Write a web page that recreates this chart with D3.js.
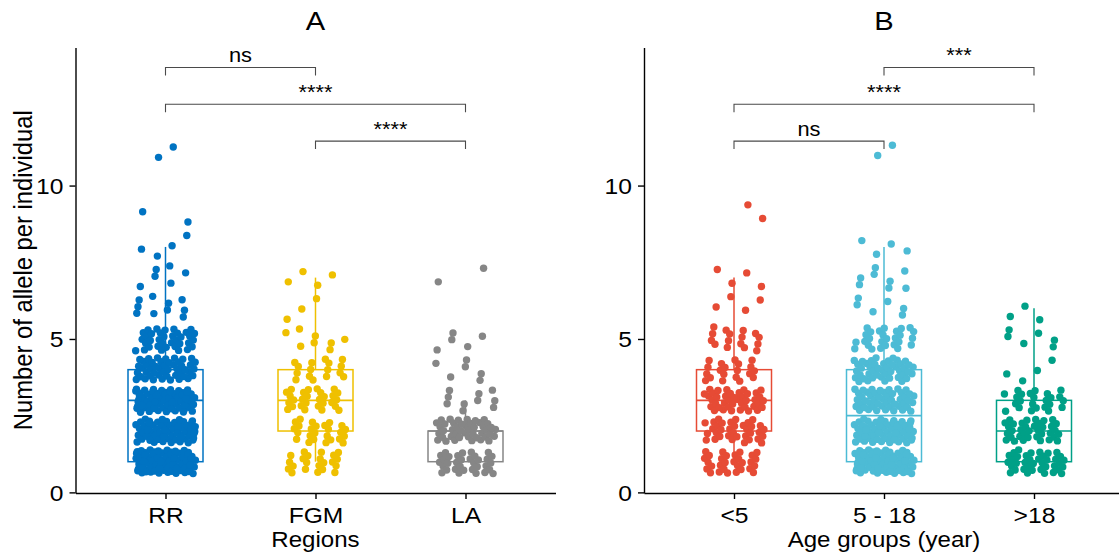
<!DOCTYPE html>
<html>
<head>
<meta charset="utf-8">
<script src="https://cdn.jsdelivr.net/npm/d3@7"></script>
<style>
  html, body { margin: 0; padding: 0; background: #ffffff; }
  svg { display: block; }
  text { font-family: "Liberation Sans", Arial, Helvetica, sans-serif; fill: #000; }
</style>
</head>
<body>
<script>
// ---- data: number of individuals carrying each allele count ----
const alleleValues = [1, 2, 3, 4, 5, 6, 7, 8, 9, 10, 11];
const yTicks = [0, 5, 10];

// Panel A: by region
const regions = ["RR", "FGM", "LA"];
const countsRR  = [90, 65, 74, 47, 36, 10, 6, 4, 2, 0, 2];
const countsFGM = [22, 25, 28, 16,  8,  3, 4, 0, 0, 0, 0];
const countsLA  = [33, 44, 10,  6,  5,  0, 2, 0, 0, 0, 0];
const regionColors = ["#0073C2", "#EFC000", "#868686"];
const regionTests = [
  { from: "RR",  to: "FGM", label: "ns" },
  { from: "RR",  to: "LA",  label: "****" },
  { from: "FGM", to: "LA",  label: "****" }
];

// Panel B: by age group
const ageGroups = ["<5", "5 - 18", ">18"];
const countsUnder5 = [30, 35, 40, 20, 16, 4, 4, 0, 2, 0, 0];
const counts5to18  = [77, 63, 48, 45, 27, 6, 8, 4, 0, 0, 2];
const countsOver18 = [38, 36, 24,  4,  6, 3, 0, 0, 0, 0, 0];
const ageColors = ["#E64B35", "#4DBBD5", "#00A087"];
const ageTests = [
  { from: "5 - 18", to: ">18",  label: "***" },
  { from: "<5",     to: ">18",  label: "****" },
  { from: "<5",     to: "5 - 18", label: "ns" }
];

// ---- layout ----
const W = 1119, H = 557;
const SX = 1.12;             // horizontal text stretch
const panelTop = 47.5, panelBottom = 493;
const bracketTop = 13.85, bracketGap = 1.2, bracketTip = 8;
const jitterW = 0.2, jitterH = 0.39;

const svg = d3.select("body").append("svg")
  .attr("width", W).attr("height", H);

const y = d3.scaleLinear().domain([-0.02, 14.5]).range([panelBottom, panelTop]);

function stretched(sel, x, yPos) {
  return sel.attr("transform", `translate(${x},${yPos}) scale(${SX},1)`);
}

// R2 low-discrepancy sequence for jitter offsets in [-1, 1]
function r2(n) {
  const a1 = 0.7548776662466927, a2 = 0.5698402909980532;
  return [((0.5 + a1 * n) % 1) * 2 - 1, ((0.5 + a2 * n) % 1) * 2 - 1];
}

function expand(counts) {
  const out = [];
  counts.forEach((c, k) => { for (let j = 0; j < c; j++) out.push(alleleValues[k]); });
  return out;
}

function drawPanel(cfg) {
  const g = svg.append("g");
  const x = d3.scalePoint().domain(cfg.categories)
    .range([cfg.left, cfg.left + 480]).padding(0.6);
  const step = x.step();
  const boxHalf = step * 0.25;

  cfg.counts.forEach((counts, gi) => {
    const cat = cfg.categories[gi];
    const color = cfg.colors[gi];
    const vals = expand(counts).sort(d3.ascending);
    const q1 = d3.quantile(vals, 0.25), med = d3.quantile(vals, 0.5), q3 = d3.quantile(vals, 0.75);
    const iqr = q3 - q1;
    const hiW = d3.max(vals.filter(v => v <= q3 + 1.5 * iqr));
    const loW = d3.min(vals.filter(v => v >= q1 - 1.5 * iqr));
    const cx = x(cat);
    const bg = g.append("g").attr("stroke", color).attr("stroke-width", 1.5).attr("fill", "none");
    bg.append("line").attr("x1", cx).attr("x2", cx).attr("y1", y(q3)).attr("y2", y(hiW));
    bg.append("line").attr("x1", cx).attr("x2", cx).attr("y1", y(q1)).attr("y2", y(loW));
    bg.append("rect").attr("x", cx - boxHalf).attr("width", boxHalf * 2)
      .attr("y", y(q3)).attr("height", y(q1) - y(q3)).attr("fill", "#fff");
    bg.append("line").attr("x1", cx - boxHalf).attr("x2", cx + boxHalf)
      .attr("y1", y(med)).attr("y2", y(med)).attr("stroke-width", 1.7);

    g.append("g").attr("fill", color).selectAll("circle")
      .data(vals.map((v, i) => ({ v, j: r2(i + gi * 7) })))
      .join("circle")
      .attr("cx", d => cx + d.j[0] * jitterW * step)
      .attr("cy", d => y(d.v + d.j[1] * jitterH))
      .attr("r", 3.7);
  });

  // axes
  const yAxis = g.append("g").attr("transform", `translate(${cfg.left},0)`)
    .call(d3.axisLeft(y).tickValues(yTicks).tickSize(6).tickSizeOuter(0));
  const xAxis = g.append("g").attr("transform", `translate(0,${panelBottom})`)
    .call(d3.axisBottom(x).tickSize(6).tickSizeOuter(0));
  [yAxis, xAxis].forEach(a => {
    a.select(".domain").attr("stroke", "#000").attr("stroke-width", 1.4);
    a.selectAll(".tick line").attr("stroke", "#000").attr("stroke-width", 1.4);
    a.selectAll("text").attr("font-size", 22).attr("fill", "#000")
      .attr("font-family", "Liberation Sans, Arial, sans-serif");
  });
  yAxis.selectAll(".tick text").attr("x", null).attr("dy", "0.35em")
    .attr("transform", `translate(-12,0) scale(${SX},1)`);
  xAxis.selectAll(".tick text").attr("y", null).attr("dy", null)
    .attr("transform", `translate(0,30) scale(${SX},1)`);

  // titles
  stretched(g.append("text"), (cfg.left + cfg.left + 480) / 2, 30)
    .attr("text-anchor", "middle").attr("font-size", 26).text(cfg.title);
  stretched(g.append("text"), (cfg.left + cfg.left + 480) / 2, 547)
    .attr("text-anchor", "middle").attr("font-size", 21.5).text(cfg.xTitle);
  if (cfg.yTitle) {
    g.append("text").attr("transform", `translate(32,${(panelTop + panelBottom) / 2}) rotate(-90) scale(1,${SX})`)
      .attr("text-anchor", "middle").attr("font-size", 23.8).text(cfg.yTitle);
  }

  // comparison brackets
  cfg.tests.forEach((t, k) => {
    const by = y(bracketTop - k * bracketGap);
    const x1 = x(t.from), x2 = x(t.to);
    g.append("path")
      .attr("d", `M${x1},${by + bracketTip}V${by}H${x2}V${by + bracketTip}`)
      .attr("fill", "none").attr("stroke", "#4a4a4a").attr("stroke-width", 1.1);
    stretched(g.append("text"), (x1 + x2) / 2, by - 5)
      .attr("text-anchor", "middle").attr("font-size", 19.5).text(t.label);
  });
}

drawPanel({
  categories: regions, counts: [countsRR, countsFGM, countsLA], colors: regionColors,
  left: 75.5, title: "A", xTitle: "Regions", yTitle: "Number of allele per individual",
  tests: regionTests
});
drawPanel({
  categories: ageGroups, counts: [countsUnder5, counts5to18, countsOver18], colors: ageColors,
  left: 644, title: "B", xTitle: "Age groups (year)", yTitle: null,
  tests: ageTests
});
</script>
</body>
</html>
